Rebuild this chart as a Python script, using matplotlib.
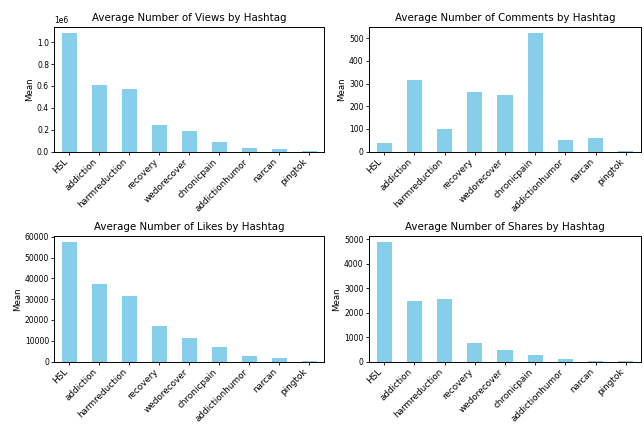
import matplotlib
matplotlib.use("Agg")
import matplotlib.pyplot as plt
import numpy as np

hashtags = ['HSL', 'addiction', 'harmreduction', 'recovery', 'wedorecover',
            'chronicpain', 'addictionhumor', 'narcan', 'pingtok']

views = [1085000, 610000, 575000, 240000, 185000, 85000, 30000, 20000, 3000]
comments = [37, 318, 99, 261, 248, 524, 51, 59, 1]
likes = [57500, 37300, 31500, 17100, 11300, 7000, 2600, 1700, 300]
shares = [4880, 2470, 2550, 760, 470, 270, 100, 20, 10]

panels = [('Views', views), ('Comments', comments), ('Likes', likes), ('Shares', shares)]

W, H = 644, 424
# axes boxes in pixels: (left, top, right, bottom)
boxes = [(54.5, 27, 324, 151.5), (369, 27, 641, 151.5),
         (54.5, 236, 324, 361.5), (369, 236, 641, 361.5)]

fig = plt.figure(figsize=(6.44, 4.24), dpi=100)
x = np.arange(len(hashtags))
for (l, t, r, b), (name, vals) in zip(boxes, panels):
    ax = fig.add_axes([l / W, 1 - b / H, (r - l) / W, (b - t) / H])
    ax.bar(x, vals, width=0.5, color='skyblue')
    ax.set_xlim(-0.5, len(hashtags) - 0.5)
    ax.set_xticks(x)
    ax.set_xticklabels(hashtags, rotation=45, ha='right', fontsize=6.4)
    ax.set_title(f'Average Number of {name} by Hashtag', fontsize=7.4, pad=4)
    ax.set_ylabel('Mean', fontsize=6.2, labelpad=2)
    ax.tick_params(axis='y', labelsize=5.5)
    ax.tick_params(width=0.6, length=2, pad=1.9)
    ax.yaxis.get_offset_text().set_fontsize(5.5)
    for s in ax.spines.values():
        s.set_linewidth(0.7)

fig.savefig('out.png', dpi=100)
